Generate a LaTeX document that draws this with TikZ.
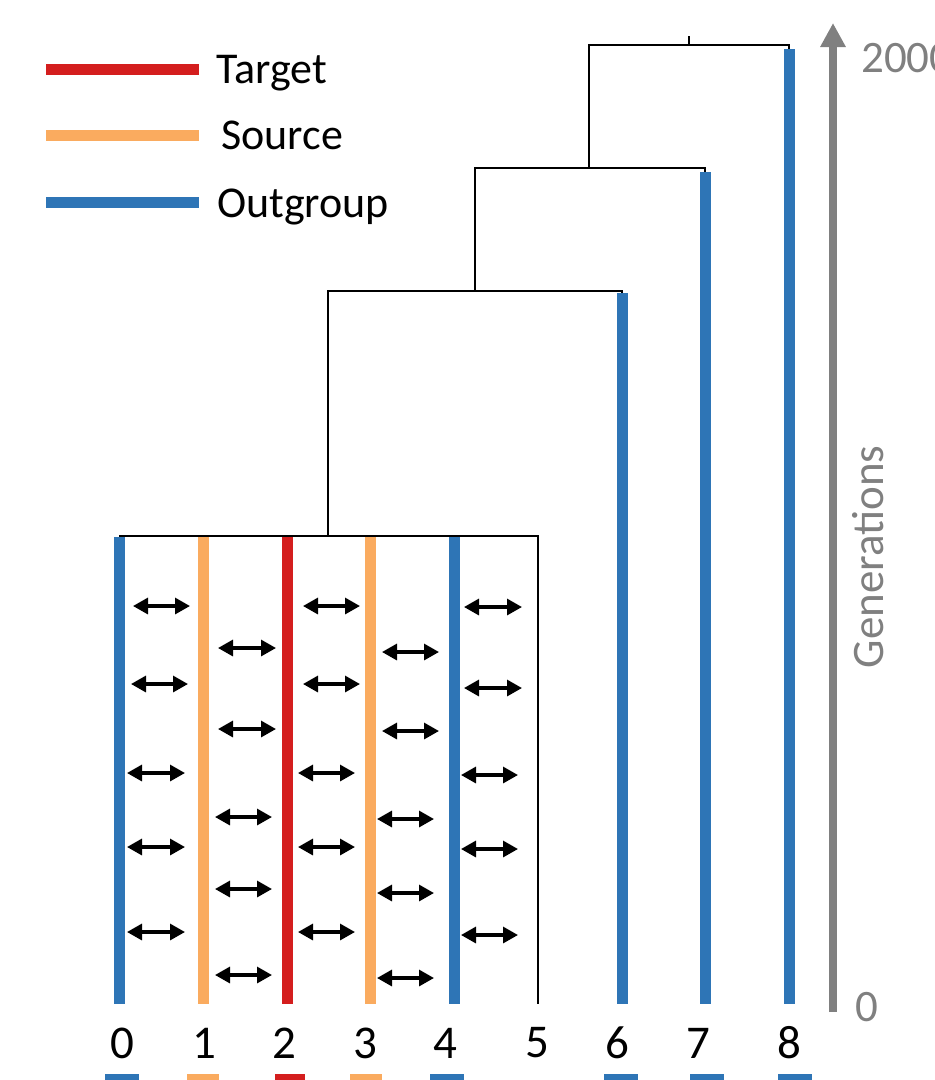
\documentclass[tikz,border=0pt]{standalone}
\usepackage{fontspec}
\setmainfont{Carlito}
\usetikzlibrary{arrows.meta}
\definecolor{cblue}{HTML}{2E75B6}
\definecolor{corange}{HTML}{FAAB5F}
\definecolor{cred}{HTML}{D41E1E}
\definecolor{cgray}{HTML}{808080}
\begin{document}
\begin{tikzpicture}[x=1pt,y=-1pt,
  tree/.style={black, line width=1.3pt},
  lin/.style={line width=11pt},
  darr/.style={line width=3.2pt, {Triangle[length=15pt 0 0,width=16pt 0 0]}-{Triangle[length=15pt 0 0,width=16pt 0 0]}},
  lab/.style={font=\fontsize{47}{50}\selectfont, inner sep=0pt},
  leg/.style={font=\fontsize{44}{46}\selectfont, anchor=base west, inner sep=0pt},
  bar/.style={line width=7pt},
  axl/.style={text=cgray, font=\fontsize{45}{46}\selectfont, inner sep=0pt}]
\useasboundingbox (0,0) rectangle (935,1080);
% legend
\draw[lin, cred] (46,69) -- (199,69);
\draw[lin, corange] (46,135) -- (199,135);
\draw[lin, cblue] (46,202) -- (199,202);
\node[leg] (lt) at (216,83) {Target};
\node[leg] (ls) at (221,149) {Source};
\node[leg] (lo) at (217,217) {Outgroup};
% tree coordinates
\coordinate (root) at (689,36);
\coordinate (r1) at (689,45);
\coordinate (n1) at (589,45);
\coordinate (n1b) at (589,168);
\coordinate (n2) at (475,168);
\coordinate (n2b) at (475,291);
\coordinate (n3) at (328,291);
\coordinate (n3b) at (328,536);
% tree black lines
\draw[tree] (root) -- (r1);
\draw[tree] (n1b) -- (n1) -- (789,45) -- (789,49);
\draw[tree] (n2b) -- (n2) -- (705,168) -- (705,172);
\draw[tree] (n3b) -- (n3) -- (622,291) -- (622,293);
\draw[tree] (119,536) -- (538,536) -- (538,1004);
% leaves
\draw[lin, cblue] (119.7,537) -- (119.7,1004);
\draw[lin, corange] (203.7,537) -- (203.7,1004);
\draw[lin, cred] (287.7,537) -- (287.7,1004);
\draw[lin, corange] (370,537) -- (370,1004);
\draw[lin, cblue] (454,537) -- (454,1004);
\draw[lin, cblue] (622.5,293) -- (622.5,1004);
\draw[lin, cblue] (705,172) -- (705,1004);
\draw[lin, cblue] (789,49) -- (789,1004);
% migration arrows
\foreach \y/\a/\b in {606/133/190, 684/131/188, 773/127/185, 847/127/185, 932/127/185,
  648/218/276, 729/218/276, 817/215/272, 889/215/272, 975/215/272,
  606/303/360, 684/303/360, 773/298/355, 847/298/355, 932/298/355,
  652/382/439, 731/382/439, 819/377/434, 893/377/434, 978/377/434,
  607/464/522, 688/464/522, 775/461/518, 849/461/518, 935/461/518}
  \draw[darr] (\a,\y) -- (\b,\y);
% labels
\node[lab] (d0) at (122,1043) {0};
\node[lab] (d1) at (204,1043) {1};
\node[lab] (d2) at (284,1043) {2};
\node[lab] (d3) at (365,1043) {3};
\node[lab] (d4) at (445,1043) {4};
\node[lab] (d5) at (537,1043) {5};
\node[lab] (d6) at (617,1043) {6};
\node[lab] (d7) at (698,1043) {7};
\node[lab] (d8) at (789,1043) {8};
% color bars under labels
\draw[bar, cblue] (105,1077) -- (139,1077);
\draw[bar, corange] (187,1077) -- (219,1077);
\draw[bar, cred] (275,1077) -- (305,1077);
\draw[bar, corange] (350,1077) -- (382,1077);
\draw[bar, cblue] (430,1077) -- (464,1077);
\draw[bar, cblue] (604,1077) -- (638,1077);
\draw[bar, cblue] (690,1077) -- (724,1077);
\draw[bar, cblue] (778,1077) -- (812,1077);
% axis
\coordinate (ax0) at (833,1012);
\coordinate (ax1) at (833,23);
\draw[cgray, line width=8pt, -{Triangle[length=24pt 0 0,width=24pt 0 0]}] (ax0) -- (ax1);
\node[axl, anchor=base west] (top) at (861,72) {2000};
\node[axl, anchor=base west] (bot) at (855,1021) {0};
\node[axl, rotate=90, anchor=base] (gen) at (883,557) {Generations};
\end{tikzpicture}
\end{document}
